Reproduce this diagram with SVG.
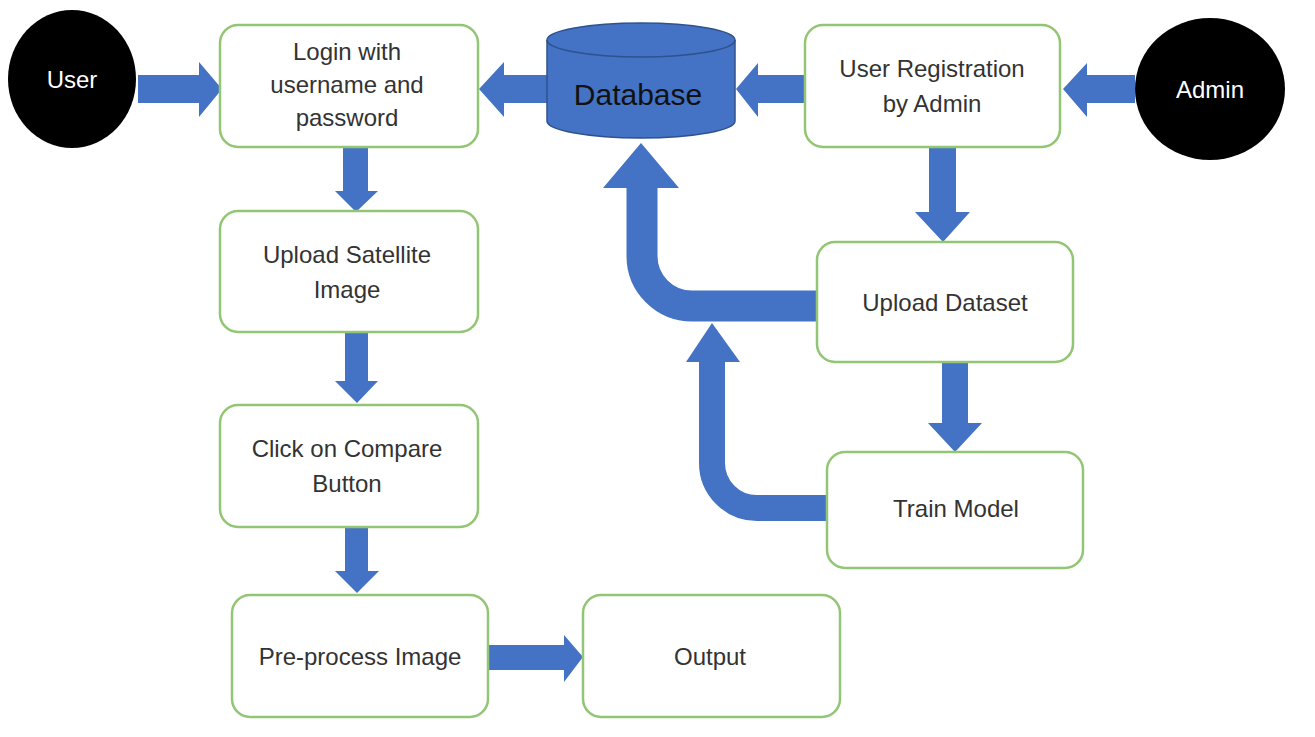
<svg xmlns="http://www.w3.org/2000/svg" width="1315" height="737" viewBox="0 0 1315 737">
<style>
.box{fill:#ffffff;stroke:#93c674;stroke-width:2.5}
.lbl{font-family:"Liberation Sans",Arial,sans-serif;font-size:24px;fill:#333333;text-anchor:middle}
.actor{fill:#000000}
.alb{font-family:"Liberation Sans",Arial,sans-serif;font-size:24px;fill:#ffffff;text-anchor:middle}
.arr{fill:#4472c4}
.band{fill:none;stroke:#4472c4}
.db{fill:#4472c4;stroke:#2f528f;stroke-width:1.5}
</style>
<rect x="0" y="0" width="1315" height="737" fill="#ffffff"/>
<g id="connectors">
  <polygon class="arr" points="138,75 199,75 199,62 222,89 199,117 199,103 138,103"/>
  <polygon class="arr" points="547,75 504,75 504,62 479,89 504,117 504,103 547,103"/>
  <polygon class="arr" points="805,75 758,75 758,63 736,89 758,117 758,103 805,103"/>
  <polygon class="arr" points="1135,75 1087,75 1087,63 1063,89 1087,117 1087,103 1135,103"/>
  <polygon class="arr" points="343,147 368,147 368,191 378,191 356,212 335,191 343,191"/>
  <polygon class="arr" points="345,332 368,332 368,381 378,381 357,403 335,381 345,381"/>
  <polygon class="arr" points="345,527 368,527 368,571 379,571 357,593 335,571 345,571"/>
  <polygon class="arr" points="488,645 564,645 564,635 583,657 564,682 564,670 488,670"/>
  <polygon class="arr" points="929,147 956,147 956,212 970,212 943,242 915,212 929,212"/>
  <polygon class="arr" points="942,362 968,362 968,423 982,423 955,452 928,423 942,423"/>
  <path class="band" stroke-width="31" d="M 818 306 H 692 A 50 50 0 0 1 642 256 V 187"/>
  <polygon class="arr" points="603,188 679,188 641,143"/>
  <path class="band" stroke-width="26" d="M 828 508 H 757 A 45 45 0 0 1 712 463 V 361"/>
  <polygon class="arr" points="686,362 740,362 712,323"/>
</g>
<g id="user">
  <ellipse class="actor" cx="72" cy="79" rx="64" ry="69"/>
  <text class="alb" x="72" y="88">User</text>
</g>
<g id="admin">
  <ellipse class="actor" cx="1210" cy="89" rx="75" ry="71"/>
  <text class="alb" x="1210" y="98">Admin</text>
</g>
<g id="login">
  <rect class="box" x="220" y="25" width="258" height="122" rx="18"/>
  <text class="lbl" x="347" y="60">Login with</text>
  <text class="lbl" x="347" y="93">username and</text>
  <text class="lbl" x="347" y="126">password</text>
</g>
<g id="database">
  <path class="db" d="M 547 40 V 121 A 94 17 0 0 0 735 121 V 40 A 94 17 0 0 0 547 40 Z"/>
  <path fill="none" stroke="#2f528f" stroke-width="1.5" d="M 547 40 A 94 17 0 0 0 735 40"/>
  <text x="638" y="105" font-family="Liberation Sans, Arial, sans-serif" font-size="30" fill="#111111" text-anchor="middle">Database</text>
</g>
<g id="registration">
  <rect class="box" x="805" y="25" width="255" height="122" rx="18"/>
  <text class="lbl" x="932" y="77">User Registration</text>
  <text class="lbl" x="932" y="112">by Admin</text>
</g>
<g id="upload-satellite">
  <rect class="box" x="220" y="211" width="258" height="121" rx="18"/>
  <text class="lbl" x="347" y="263">Upload Satellite</text>
  <text class="lbl" x="347" y="298">Image</text>
</g>
<g id="compare">
  <rect class="box" x="220" y="405" width="258" height="122" rx="18"/>
  <text class="lbl" x="347" y="457">Click on Compare</text>
  <text class="lbl" x="347" y="492">Button</text>
</g>
<g id="preprocess">
  <rect class="box" x="232" y="595" width="256" height="122" rx="18"/>
  <text class="lbl" x="360" y="665">Pre-process Image</text>
</g>
<g id="output">
  <rect class="box" x="583" y="595" width="257" height="122" rx="18"/>
  <text class="lbl" x="710" y="665">Output</text>
</g>
<g id="upload-dataset">
  <rect class="box" x="817" y="242" width="256" height="120" rx="18"/>
  <text class="lbl" x="945" y="311">Upload Dataset</text>
</g>
<g id="train">
  <rect class="box" x="827" y="452" width="256" height="116" rx="18"/>
  <text class="lbl" x="956" y="517">Train Model</text>
</g>
</svg>
